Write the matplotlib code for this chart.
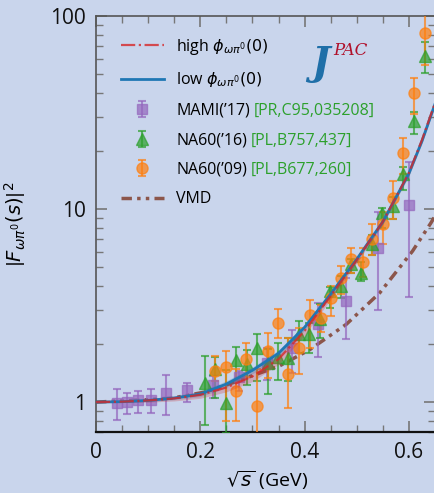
import numpy as np
import matplotlib.pyplot as plt

plt.rcParams['font.family'] = ['Open Sans', 'DejaVu Sans']
plt.rcParams['mathtext.fontset'] = 'dejavusans'

# MAMI('17)
mami_x = [0.040, 0.059, 0.080, 0.105, 0.134, 0.174, 0.225, 0.275, 0.327, 0.376, 0.425, 0.480, 0.540, 0.601]
mami_y = [0.985, 1.00, 1.02, 1.02, 1.12, 1.15, 1.22, 1.35, 1.60, 1.91, 2.53, 3.33, 6.3, 10.5]
mami_lo = [0.81, 0.87, 0.88, 0.88, 0.86, 1.00, 1.05, 1.14, 1.30, 1.42, 1.71, 2.11, 3.0, 3.5]
mami_hi = [1.17, 1.12, 1.14, 1.17, 1.38, 1.25, 1.36, 1.45, 1.91, 2.36, 3.27, 4.4, 9.6, 17.5]

# NA60('16)
na16_x = [0.209, 0.229, 0.249, 0.269, 0.289, 0.309, 0.329, 0.349, 0.369, 0.389, 0.409,
          0.429, 0.449, 0.469, 0.489, 0.509, 0.529, 0.549, 0.569, 0.589, 0.609, 0.630]
na16_y = [1.26, 1.48, 0.99, 1.66, 1.57, 1.91, 1.60, 1.72, 1.70, 2.24, 2.24,
          2.69, 3.76, 3.99, 5.17, 4.67, 6.6, 9.5, 10.4, 15.2, 28.5, 62.0]
na16_lo = [0.76, 1.05, 0.69, 1.29, 1.23, 1.28, 1.10, 1.30, 1.28, 1.80, 1.80,
           2.15, 3.08, 3.47, 4.67, 4.23, 5.75, 8.0, 8.9, 12.5, 24.4, 50.5]
na16_hi = [1.73, 1.71, 1.46, 1.93, 1.86, 2.24, 1.89, 2.03, 2.15, 2.63, 2.57,
           3.22, 3.94, 4.49, 5.50, 5.32, 7.3, 10.1, 11.5, 16.6, 31.8, 73.5]

# NA60('09)
na09_x = [0.228, 0.249, 0.269, 0.288, 0.309, 0.330, 0.349, 0.369, 0.390, 0.410, 0.431,
          0.450, 0.469, 0.489, 0.511, 0.530, 0.550, 0.569, 0.588, 0.609, 0.631]
na09_y = [1.45, 1.52, 1.14, 1.68, 0.95, 1.85, 2.57, 1.39, 1.91, 2.84, 2.73,
          3.47, 4.37, 5.48, 5.31, 7.0, 8.4, 11.4, 19.5, 39.8, 81.5]
na09_lo = [1.28, 0.80, 0.80, 1.35, 0.60, 1.34, 2.15, 0.93, 1.39, 1.91, 2.30,
           2.79, 3.64, 4.67, 4.44, 5.75, 6.6, 8.9, 15.1, 31.0, 56.0]
na09_hi = [1.73, 1.83, 1.48, 2.03, 1.48, 2.27, 3.04, 2.15, 2.42, 3.36, 3.20,
           3.99, 5.06, 6.25, 6.29, 8.4, 9.7, 13.9, 23.4, 47.5, 110.0]

# fit curves
fit_x = [0.0, 0.05, 0.10, 0.15, 0.20, 0.25, 0.30, 0.35, 0.40, 0.45, 0.50, 0.55, 0.60, 0.625, 0.65]
low_y = [1.0, 1.005, 1.02, 1.05, 1.10, 1.24, 1.46, 1.79, 2.44, 3.63, 5.5, 8.6, 15.3, 22.5, 35.0]
low_w = [0.005, 0.01, 0.015, 0.02, 0.03, 0.04, 0.04, 0.04, 0.035, 0.03, 0.03, 0.03, 0.03, 0.03, 0.03]
high_y = [1.0, 1.005, 1.02, 1.045, 1.09, 1.19, 1.36, 1.67, 2.34, 3.55, 5.45, 8.6, 15.4, 22.8, 35.5]
high_w = [0.005, 0.01, 0.02, 0.03, 0.04, 0.05, 0.06, 0.06, 0.05, 0.04, 0.035, 0.03, 0.03, 0.03, 0.03]

# VMD
vmd_x = [0.0, 0.10, 0.147, 0.211, 0.28, 0.352, 0.41, 0.48, 0.544, 0.607, 0.642, 0.65]
vmd_y = [1.0, 1.03, 1.05, 1.13, 1.31, 1.54, 1.87, 2.53, 3.68, 6.06, 8.46, 9.2]

bg = '#c9d5ec'
fig = plt.figure(figsize=(4.35, 4.93), dpi=100, facecolor=bg)
ax = fig.add_axes([96 / 435, 1 - 432 / 493, 339 / 435, 416 / 493])
ax.set_facecolor(bg)
ax.set_yscale('log')

fx = np.array(fit_x)
ly, lw = np.array(low_y), np.array(low_w)
hy, hw = np.array(high_y), np.array(high_w)
ax.fill_between(fx, hy * (1 - hw), hy * (1 + hw), color='#d62728', alpha=0.25, lw=0, zorder=4)
ax.fill_between(fx, ly * (1 - lw), ly * (1 + lw), color='#1f77b4', alpha=0.25, lw=0, zorder=4)
l_low, = ax.plot(fx, ly, color='#1f77b4', lw=2, zorder=5, label=r'low $\phi_{\omega\pi^0}(0)$')
l_high, = ax.plot(fx, hy, color='#d62728', lw=1.6, ls='-.', alpha=0.8, zorder=6,
                  label=r'high $\phi_{\omega\pi^0}(0)$')

def err(y, lo, hi):
    y, lo, hi = np.array(y), np.array(lo), np.array(hi)
    return [y - lo, hi - y]

kw = dict(ls='none', capsize=3, elinewidth=1.5, capthick=1.5, alpha=0.7, zorder=3)
e_mami = ax.errorbar(mami_x, mami_y, yerr=err(mami_y, mami_lo, mami_hi), fmt='s', ms=7,
                     color='#9467bd', label='MAMI(’17)', **kw)
e_16 = ax.errorbar(na16_x, na16_y, yerr=err(na16_y, na16_lo, na16_hi), fmt='^', ms=8,
                   color='#2ca02c', label='NA60(’16)', **kw)
e_09 = ax.errorbar(na09_x, na09_y, yerr=err(na09_y, na09_lo, na09_hi), fmt='o', ms=8,
                   color='#ff7f0e', label='NA60(’09)', **kw)
l_vmd, = ax.plot(vmd_x, vmd_y, color='#8c564b', lw=2.5, ls=(0, (3, 1.5, 1, 1.5, 1, 1.5)),
                 zorder=2, label='VMD')

ax.set_xlim(0, 0.65)
ax.set_ylim(0.7, 100)
ax.set_xticks([0, 0.2, 0.4, 0.6])
ax.set_xticklabels(['0', '0.2', '0.4', '0.6'])
ax.set_xticks(np.arange(0.05, 0.65, 0.05), minor=True)
ax.set_yticks([1, 10, 100])
ax.set_yticklabels(['1', '10', '100'])
ax.tick_params(which='both', direction='in', top=True, right=True, colors='#777',
               labelcolor='#111', labelsize=15)
ax.tick_params(which='major', length=8, width=1.2, pad=7)
ax.tick_params(which='minor', length=5, width=1.0)
for s in ax.spines.values():
    s.set_color('#555')
    s.set_linewidth(1.2)
ax.spines['bottom'].set_color('#111')
ax.spines['bottom'].set_linewidth(1.6)

ax.set_xlabel(r'$\sqrt{s}$ (GeV)', fontsize=14)
ax.xaxis.set_label_coords(0.504, -0.088)
ax.set_ylabel(r'$\left|F_{\omega\pi^0}(s)\right|^2$', fontsize=14)
ax.yaxis.set_label_coords(-0.2, 0.5)

leg = ax.legend(handles=[l_high, l_low, e_mami, e_16, e_09, l_vmd], loc='upper left',
                bbox_to_anchor=(0.03, 0.985), frameon=False, fontsize=11.5,
                handlelength=2.7, handletextpad=0.8, labelspacing=0.85)

fig.canvas.draw()
refs = ['[PR,C95,035208]', '[PL,B757,437]', '[PL,B677,260]']
W, H = fig.bbox.width, fig.bbox.height
for t, r in zip(leg.get_texts()[2:5], refs):
    bb = t.get_window_extent()
    fig.text(bb.x1 / W + 0.008, (bb.y0 + bb.y1) / 2 / H, r, color='#2ca02c',
             fontsize=11.5, va='center', ha='left')

# JPAC logo
ax.text(0.635, 0.885, 'J', transform=ax.transAxes, fontsize=28, color='#1f6fa8',
        family='DejaVu Serif', style='italic', weight='bold', ha='left', va='center')
ax.text(0.70, 0.918, 'PAC', transform=ax.transAxes, fontsize=12, color='#b0102a',
        family='DejaVu Serif', style='italic', ha='left', va='center')

fig.savefig('out.png', dpi=100, facecolor=bg)
